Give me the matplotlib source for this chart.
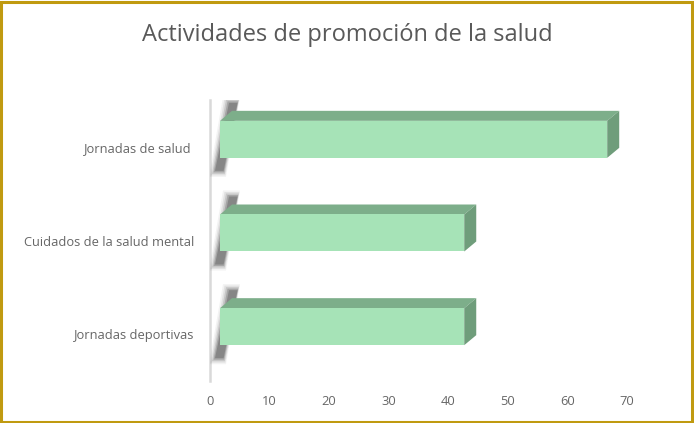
import matplotlib
matplotlib.use("Agg")
import matplotlib.pyplot as plt
from matplotlib.patches import Polygon, Rectangle

# data (bottom to top)
categories = ["Jornadas deportivas", "Cuidados de la salud mental", "Jornadas de salud "]
values = [41, 41, 65]
ticks = [0, 10, 20, 30, 40, 50, 60, 70]

W, H = 694, 423
fig = plt.figure(figsize=(W / 100, H / 100), dpi=100)
fig.patch.set_facecolor("white")

# gold frame round the chart
fig.patches.append(Rectangle((0.002, 0.003), 0.995, 0.993, transform=fig.transFigure,
                             fill=False, edgecolor="#C09A10", linewidth=2.2))

ax_l, ax_r, ax_t, ax_b = 210, 627, 100, 381
ax = fig.add_axes([ax_l / W, (H - ax_b) / H, (ax_r - ax_l) / W, (ax_b - ax_t) / H])
ax.set_xlim(0, 70)
ax.set_ylim(-0.5, 2.5)

# pixel -> data unit helpers for the 3D look
xpp = 70 / (ax_r - ax_l)
ypp = 3.0 / (ax_b - ax_t)

front_c = "#A6E3B7"
top_c = "#7DAE8A"
side_c = "#6F9D7B"

bar_px = 37
bar_h = bar_px * ypp
sx, sy = 10 * xpp, 7.5 * ypp      # shift of the front face
dx, dy = 12, 10                   # depth in px


def px(x0, y0, ox, oy):
    return (x0 + ox * xpp, y0 + oy * ypp)


for i, v in enumerate(values):
    x0 = sx
    x1 = sx + v
    y0 = i + sy - bar_h / 2
    y1 = i + sy + bar_h / 2
    # blurred shadow on the back wall, slanted band behind the bar end
    for k, a in [(5, 0.06), (3.5, 0.09), (2, 0.15), (0.5, 0.22), (-1, 0.28)]:
        pts = [px(x0, y0, -6 - k, -14 - k),
               px(x0, y0, 4 + k * 0.4, -14 - k),
               px(x0, y0, dx + 6 + k * 0.4, bar_px + dy + 9 + k),
               px(x0, y0, dx - 4 - k, bar_px + dy + 9 + k)]
        ax.add_patch(Polygon(pts, closed=True, facecolor="#333333", edgecolor="none",
                             alpha=a, zorder=2))
    ax.add_patch(Polygon([(x0, y1), (x1, y1), px(x1, y1, dx, dy), px(x0, y1, dx, dy)],
                         closed=True, facecolor=top_c, edgecolor="none", zorder=3))
    ax.add_patch(Polygon([(x1, y0), px(x1, y0, dx, dy), px(x1, y1, dx, dy), (x1, y1)],
                         closed=True, facecolor=side_c, edgecolor="none", zorder=3))
    ax.add_patch(Rectangle((x0, y0), v, bar_h, facecolor=front_c, edgecolor="none", zorder=4))

for s in ["top", "right", "bottom"]:
    ax.spines[s].set_visible(False)
ax.spines["left"].set_color("#D9D9D9")
ax.spines["left"].set_linewidth(1.8)
ax.spines["left"].set_zorder(1)

ax.set_yticks(range(len(categories)))
ax.set_yticklabels(categories)
ax.set_xticks(ticks)
ax.tick_params(axis="both", length=0, colors="#595959", labelsize=9.3)
ax.tick_params(axis="y", pad=11)
ax.tick_params(axis="x", pad=10)
for t in ax.get_xticklabels() + ax.get_yticklabels():
    t.set_fontfamily("Open Sans")
    t.set_color("#666666")

fig.text(0.5, 1 - 35 / H, "Actividades de promoción de la salud", ha="center", va="center",
         fontsize=17, color="#595959", fontfamily="Open Sans")

fig.savefig("out.png", dpi=100)
